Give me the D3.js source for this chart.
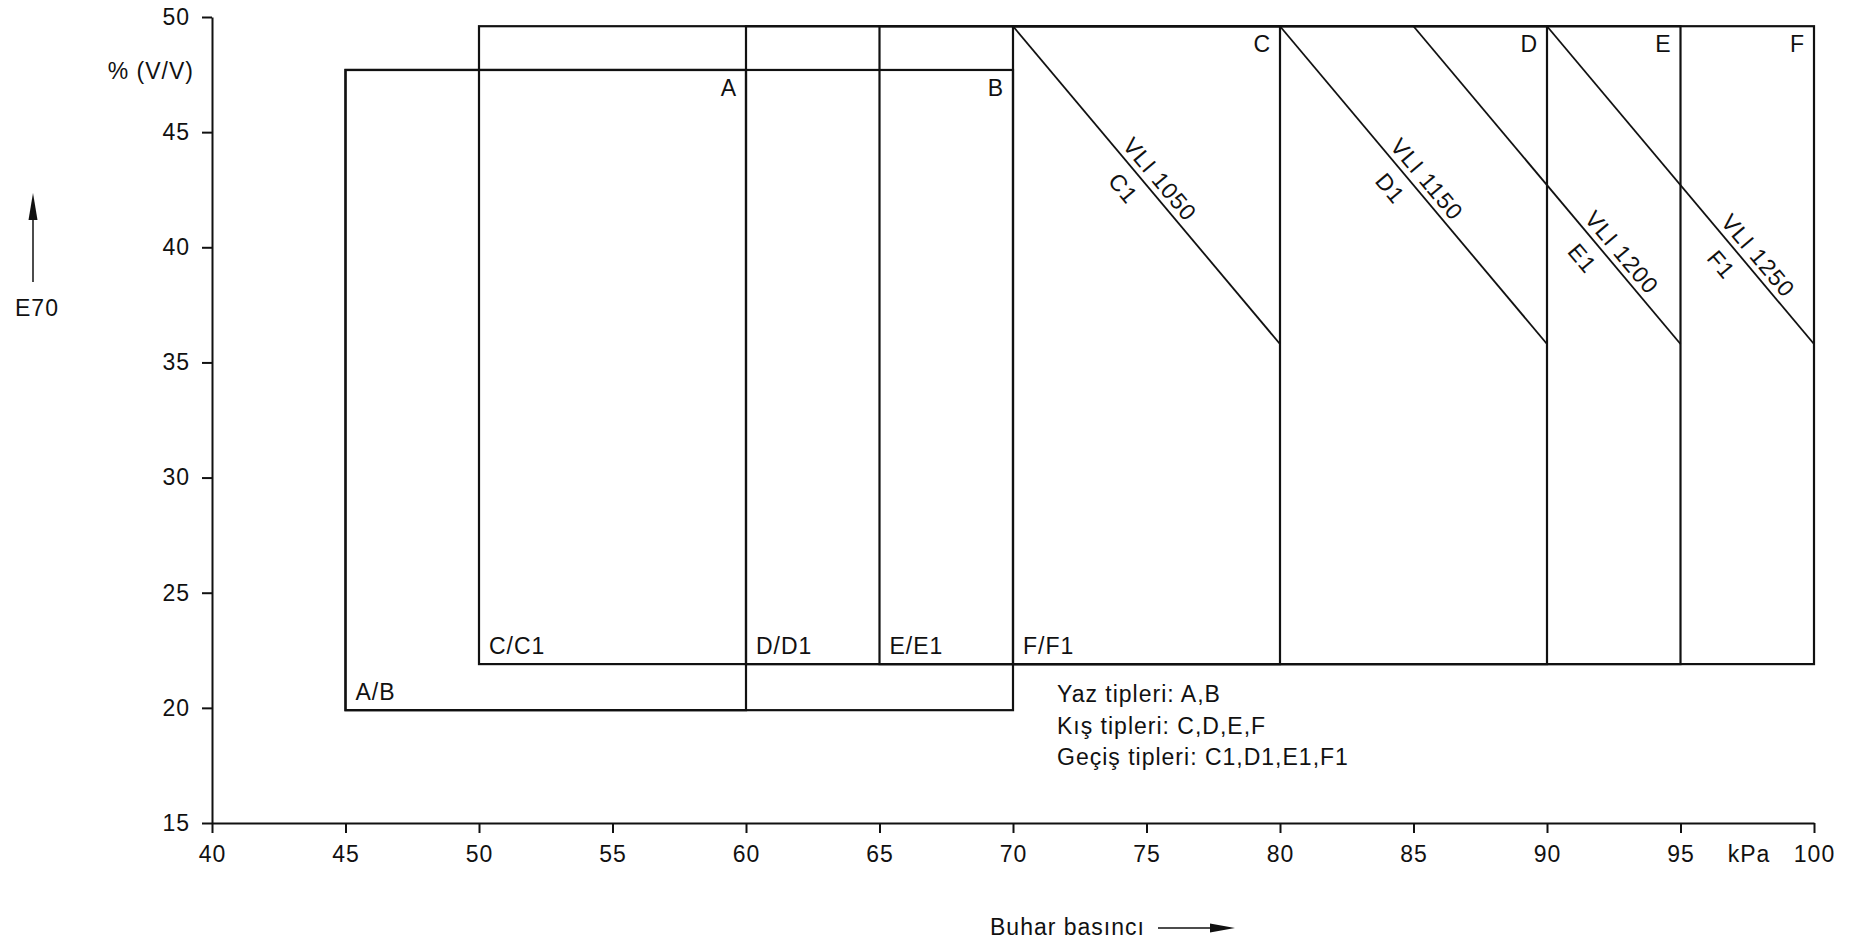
<html>
<head>
<script src="https://d3js.org/d3.v7.min.js"></script>
<style>
  body { margin: 0; background: #fff; }
  text { font-family: "Liberation Sans", Arial, sans-serif; fill: #111; letter-spacing: 1px; }
  .box { fill: none; stroke: #111; stroke-width: 2.2px; }
  .vli { stroke: #111; stroke-width: 1.8px; }
  .axis path, .axis line { stroke: #111; stroke-width: 2px; }
</style>
</head>
<body>
<svg id="chart" width="1866" height="944"></svg>
<script>
// ticks
const pressureTicks = [40, 45, 50, 55, 60, 65, 70, 75, 80, 85, 90, 95, 100];
const e70Ticks = [15, 20, 25, 30, 35, 40, 45, 50];

// fuel class boxes (kPa range x E70 range)
const boxNames = ["A", "B", "C", "D", "E", "F"];
const boxX0 = [45, 45, 50, 60, 65, 70];
const boxX1 = [60, 70, 80, 90, 95, 100];
const boxY0 = [19.9, 19.9, 21.9, 21.9, 21.9, 21.9];
const boxY1 = [47.7, 47.7, 49.6, 49.6, 49.6, 49.6];

// bottom-left labels
const cornerNames = ["A/B", "C/C1", "D/D1", "E/E1", "F/F1"];
const cornerX = [45, 50, 60, 65, 70];
const cornerY = [19.9, 21.9, 21.9, 21.9, 21.9];

// VLI lines
const vliNames = ["VLI 1050", "VLI 1150", "VLI 1200", "VLI 1250"];
const vliClass = ["C1", "D1", "E1", "F1"];
const vliX0 = [70, 80, 85, 90];
const vliY0 = [49.6, 49.6, 49.6, 49.6];
const vliX1 = [80, 90, 95, 100];
const vliY1 = [35.8, 35.8, 35.8, 35.8];
const vliLabelAt = [0.51, 0.51, 0.74, 0.75];
const classLabelAt = [0.47, 0.47, 0.69, 0.71];

const legendLines = ["Yaz tipleri: A,B", "Kış tipleri: C,D,E,F", "Geçiş tipleri: C1,D1,E1,F1"];

const fs = "23px";
const svg = d3.select("#chart");
const x = d3.scaleLinear().domain([40, 100]).range([212, 1814]);
const y = d3.scaleLinear().domain([15, 50]).range([823, 17]);

// axes
svg.append("g").attr("class", "axis")
   .attr("transform", "translate(0," + y(15) + ")")
   .call(d3.axisBottom(x).tickValues(pressureTicks).tickSize(10).tickSizeOuter(0).tickPadding(13));

svg.append("g").attr("class", "axis")
   .attr("transform", "translate(" + x(40) + ",0)")
   .call(d3.axisLeft(y).tickValues(e70Ticks).tickSize(10).tickSizeOuter(0).tickPadding(12));

svg.selectAll(".axis .domain").attr("fill", "none");
svg.selectAll(".axis text").attr("font-family", null).attr("font-size", null).style("font-size", fs);

// boxes
const boxes = boxNames.map((n, i) => ({name: n, x0: boxX0[i], x1: boxX1[i], y0: boxY0[i], y1: boxY1[i]}));
svg.selectAll("rect.box").data(boxes).join("rect")
   .attr("class", "box")
   .attr("x", d => x(d.x0))
   .attr("y", d => y(d.y1))
   .attr("width", d => x(d.x1) - x(d.x0))
   .attr("height", d => y(d.y0) - y(d.y1));

svg.selectAll("text.boxname").data(boxes).join("text")
   .attr("class", "boxname")
   .attr("x", d => x(d.x1) - 9)
   .attr("y", d => y(d.y1) + 26)
   .attr("text-anchor", "end")
   .style("font-size", fs)
   .text(d => d.name);

svg.selectAll("text.corner").data(cornerNames).join("text")
   .attr("class", "corner")
   .attr("x", (d, i) => x(cornerX[i]) + 10)
   .attr("y", (d, i) => y(cornerY[i]) - 10)
   .style("font-size", fs)
   .text(d => d);

// VLI lines + labels
const vli = vliNames.map((n, i) => ({name: n, cls: vliClass[i], x0: vliX0[i], y0: vliY0[i], x1: vliX1[i], y1: vliY1[i], t: vliLabelAt[i], tc: classLabelAt[i]}));
svg.selectAll("line.vli").data(vli).join("line")
   .attr("class", "vli")
   .attr("x1", d => x(d.x0)).attr("y1", d => y(d.y0))
   .attr("x2", d => x(d.x1)).attr("y2", d => y(d.y1));

function along(d, t) {
  const px = x(d.x0) + t * (x(d.x1) - x(d.x0));
  const py = y(d.y0) + t * (y(d.y1) - y(d.y0));
  const ang = Math.atan2(y(d.y1) - y(d.y0), x(d.x1) - x(d.x0)) * 180 / Math.PI;
  return "translate(" + px + "," + py + ") rotate(" + ang + ")";
}
svg.selectAll("text.vliname").data(vli).join("text")
   .attr("class", "vliname")
   .attr("transform", d => along(d, d.t))
   .attr("y", -6)
   .attr("text-anchor", "middle")
   .style("font-size", fs)
   .text(d => d.name);
svg.selectAll("text.vlicls").data(vli).join("text")
   .attr("class", "vlicls")
   .attr("transform", d => along(d, d.tc))
   .attr("y", 28)
   .attr("text-anchor", "middle")
   .style("font-size", fs)
   .text(d => d.cls);

// legend
svg.selectAll("text.legend").data(legendLines).join("text")
   .attr("class", "legend")
   .attr("x", 1057)
   .attr("y", (d, i) => 702 + i * 31.5)
   .style("font-size", fs)
   .text(d => d);

// axis titles
svg.append("text").attr("x", 194).attr("y", 79).attr("text-anchor", "end")
   .style("font-size", fs).text("% (V/V)");
svg.append("text").attr("x", 37).attr("y", 316).attr("text-anchor", "middle")
   .style("font-size", fs).text("E70");
svg.append("line").attr("x1", 33).attr("y1", 282).attr("x2", 33).attr("y2", 215)
   .attr("stroke", "#111").attr("stroke-width", 1.5);
svg.append("path").attr("d", "M33,193 L28.5,220 L37.5,220 Z").attr("fill", "#111");

svg.append("text").attr("x", 990).attr("y", 935)
   .style("font-size", fs).text("Buhar basıncı");
svg.append("line").attr("x1", 1158).attr("y1", 928).attr("x2", 1215).attr("y2", 928)
   .attr("stroke", "#111").attr("stroke-width", 1.5);
svg.append("path").attr("d", "M1235,928 L1210,923.5 L1210,932.5 Z").attr("fill", "#111");

svg.append("text").attr("x", 1749).attr("y", 862).attr("text-anchor", "middle")
   .style("font-size", fs).text("kPa");
</script>
</body>
</html>
